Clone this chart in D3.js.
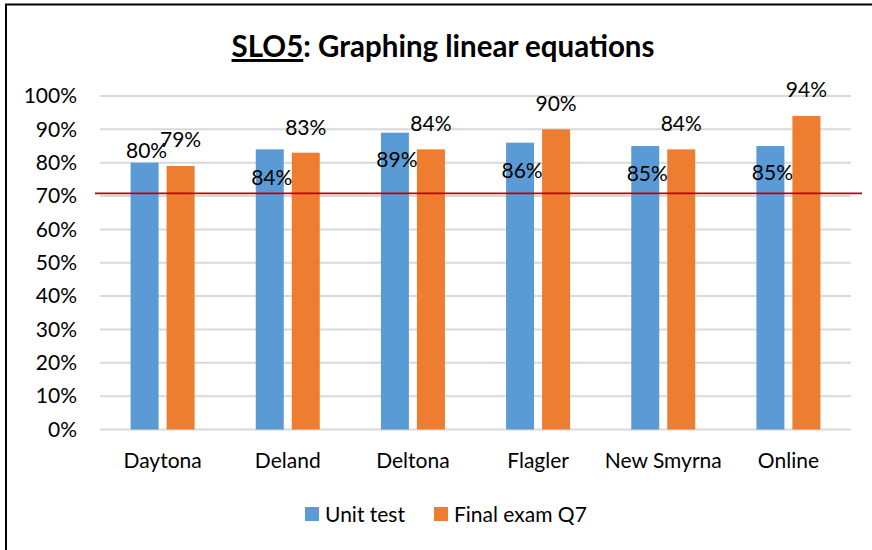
<!DOCTYPE html>
<html>
<head>
<meta charset="utf-8">
<script src="https://cdn.jsdelivr.net/npm/d3@7"></script>
<style>
  body { margin: 0; background: #fff; }
  text { font-family: Lato, "Open Sans", sans-serif; fill: #000; }
</style>
</head>
<body>
<div id="chart"></div>
<script>
const width = 872, height = 550;

// data
const campuses = ["Daytona", "Deland", "Deltona", "Flagler", "New Smyrna", "Online"];
const unitTest = [0.80, 0.84, 0.89, 0.86, 0.85, 0.85];
const finalExam = [0.79, 0.83, 0.84, 0.90, 0.84, 0.94];
const seriesNames = ["Unit test", "Final exam Q7"];
const yTicks = [0, 0.1, 0.2, 0.3, 0.4, 0.5, 0.6, 0.7, 0.8, 0.9, 1.0];
const target = 0.708;

// hand-moved label positions (value units on the y scale)
const unitLabelAt = [0.813, 0.733, 0.788, 0.753, 0.745, 0.748];
const finalLabelAt = [0.847, 0.883, 0.895, 0.955, 0.895, 0.997];

const colors = ["#5B9BD5", "#ED7D31"];
const margin = { top: 96, right: 21, bottom: 120, left: 100 };
const fs = "21px";

const svg = d3.select("#chart").append("svg")
  .attr("width", width)
  .attr("height", height);

// outer frame
svg.append("path")
  .attr("d", `M6,${height} V4.5 H${width}`)
  .attr("fill", "none")
  .attr("stroke", "#000")
  .attr("stroke-width", 2);

const x = d3.scaleBand()
  .domain(campuses)
  .range([margin.left, width - margin.right]);

const y = d3.scaleLinear()
  .domain([0, 1])
  .range([height - margin.bottom - 0.5, margin.top]);

/* title, with SLO5 underlined */
const title = svg.append("text")
  .attr("x", 443)
  .attr("y", 57)
  .attr("text-anchor", "middle")
  .style("font-size", "29.5px")
  .style("font-weight", "bold");
title.append("tspan").style("text-decoration", "underline").text("SLO5");
title.append("tspan").text(": Graphing linear equations");

// gridlines
svg.append("g")
  .selectAll("line")
  .data(yTicks)
  .join("line")
  .attr("x1", margin.left)
  .attr("x2", width - margin.right)
  .attr("y1", d => y(d))
  .attr("y2", d => y(d))
  .attr("stroke", "#d9d9d9")
  .attr("stroke-width", 2);

// y axis labels
const yAxis = svg.append("g")
  .attr("transform", `translate(${margin.left},0)`)
  .call(d3.axisLeft(y).tickValues(yTicks).tickFormat(d3.format(".0%")).tickSize(0).tickPadding(23));
yAxis.select(".domain").remove();
yAxis.selectAll("text")
  .style("font-family", "Lato, sans-serif")
  .style("font-size", fs)
  .attr("fill", "#000");

// x axis labels
const xAxis = svg.append("g")
  .attr("transform", `translate(0,${y(0)})`)
  .call(d3.axisBottom(x).tickSize(0).tickPadding(24));
xAxis.select(".domain").remove();
xAxis.selectAll("text")
  .style("font-family", "Lato, sans-serif")
  .style("font-size", fs)
  .attr("fill", "#000");

const barW = 28, gap = 4;
const rows = campuses.map((c, i) => ({ c, i, u: unitTest[i], f: finalExam[i] }));

const groups = svg.append("g")
  .selectAll("g")
  .data(rows)
  .join("g")
  .attr("transform", d => `translate(${x(d.c) + x.bandwidth() / 2},0)`);

groups.append("rect")
  .attr("x", -gap - barW)
  .attr("width", barW)
  .attr("y", d => y(d.u))
  .attr("height", d => y(0) - y(d.u))
  .attr("fill", colors[0]);

groups.append("rect")
  .attr("x", gap)
  .attr("width", barW)
  .attr("y", d => y(d.f))
  .attr("height", d => y(0) - y(d.f))
  .attr("fill", colors[1]);

// target line
svg.append("line")
  .attr("x1", margin.left - 5)
  .attr("x2", width - margin.right + 11)
  .attr("y1", y(target))
  .attr("y2", y(target))
  .attr("stroke", "#C00000")
  .attr("stroke-width", 1.75);

// data labels
const pct = d3.format(".0%");
groups.append("text")
  .attr("x", -gap - barW / 2 + 2)
  .attr("y", d => y(unitLabelAt[d.i]))
  .attr("text-anchor", "middle")
  .style("font-size", fs)
  .text(d => pct(d.u));

groups.append("text")
  .attr("x", gap + barW / 2)
  .attr("y", d => y(finalLabelAt[d.i]))
  .attr("text-anchor", "middle")
  .style("font-size", fs)
  .text(d => pct(d.f));

// legend
const legend = svg.append("g")
  .attr("transform", "translate(305,507)");
const items = [{ name: seriesNames[0], color: colors[0], dx: 0 }, { name: seriesNames[1], color: colors[1], dx: 129 }];
const li = legend.selectAll("g")
  .data(items)
  .join("g")
  .attr("transform", d => `translate(${d.dx},0)`);
li.append("rect")
  .attr("width", 14)
  .attr("height", 14)
  .attr("fill", d => d.color);
li.append("text")
  .attr("x", 20)
  .attr("y", 14.5)
  .style("font-size", fs)
  .text(d => d.name);
</script>
</body>
</html>
